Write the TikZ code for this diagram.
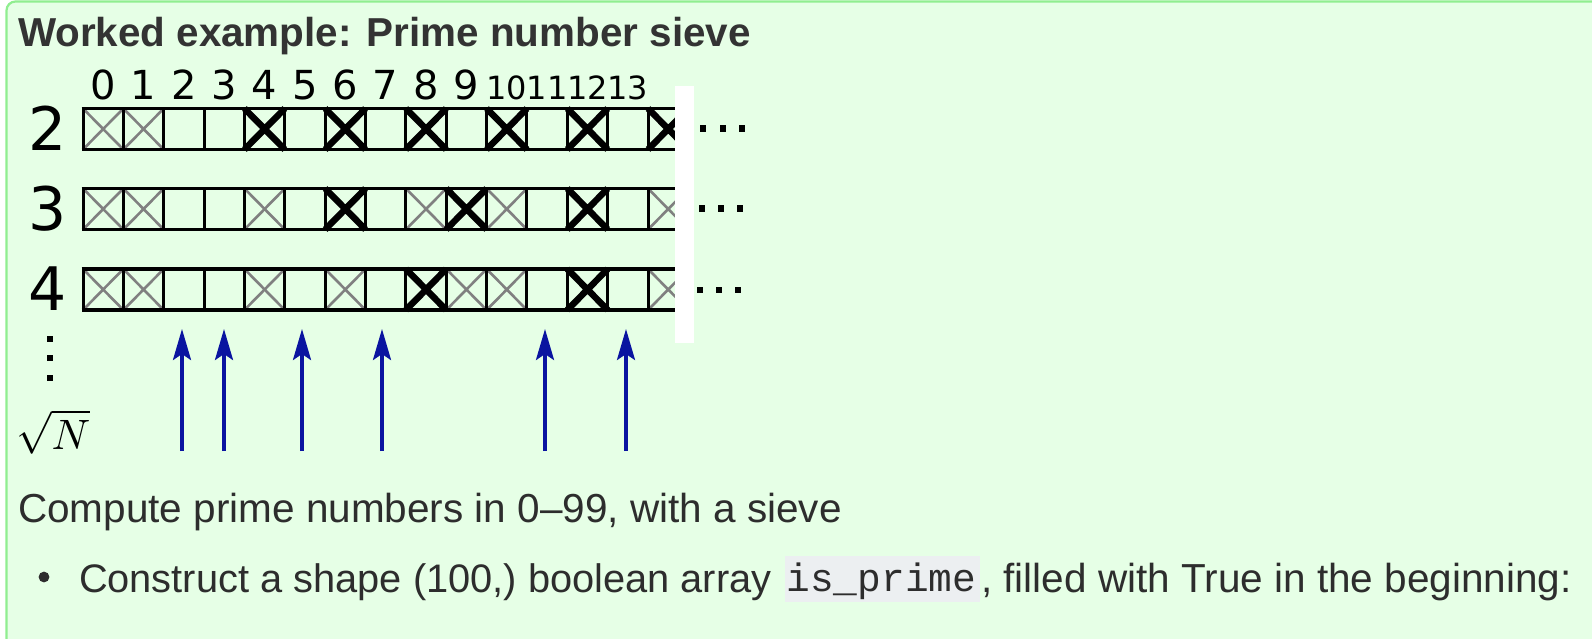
\documentclass[tikz,border=0pt]{standalone}
\usepackage{graphicx}
\usepackage{fontspec}
\setmainfont{Liberation Sans}
\newfontfamily\dejavu{DejaVu Sans}
\newfontfamily\codefont{Liberation Mono}
\usetikzlibrary{arrows.meta}
\definecolor{bgc}{RGB}{230,255,230}
\definecolor{framec}{RGB}{144,238,144}
\definecolor{titlec}{RGB}{51,51,51}
\definecolor{bodyc}{RGB}{45,45,45}
\definecolor{codebg}{RGB}{236,239,241}
\definecolor{arrc}{RGB}{10,20,160}
\definecolor{xgray}{RGB}{128,128,128}
\tikzset{
  txt/.style={inner sep=0pt, outer sep=0pt, anchor=base west},
  titlestyle/.style={txt, text=titlec, font=\fontsize{40.4}{46}\selectfont\bfseries},
  bodystyle/.style={txt, text=bodyc, font=\fontsize{40.5}{46}\selectfont},
  codestyle/.style={txt, text=bodyc, font=\fontsize{39.5}{42}\codefont},
  hdrbig/.style={inner sep=0pt, anchor=base, font=\fontsize{40}{48}\dejavu},
  hdrsmall/.style={inner sep=0pt, anchor=base, font=\fontsize{32}{38}\dejavu},
  rowlab/.style={inner sep=0pt, anchor=base, font=\fontsize{60}{70}\dejavu},
  gridline/.style={draw=black, line width=3.5pt},
  vline/.style={draw=black, line width=3pt},
  xmarkg/.style={draw=xgray, line width=2.6pt},
  xmarkb/.style={draw=black, line width=6.5pt},
  xmarkn/.style={},
  primearrow/.style={draw=arrc, line width=3.4pt, -{Stealth[length=31pt, width=18pt, inset=6pt]}},
  dotsq/.style={fill=black},
}
\begin{document}
\begin{tikzpicture}[x=1pt, y=-1pt]
\path[use as bounding box, clip] (0,0) rectangle (1592,638);
\fill[white] (0,0) rectangle (1592,638);
\path[fill=bgc, draw=framec, line width=2.2pt, rounded corners=9pt] (6.5,1.5) rectangle (1620,680);

% title
\node[titlestyle] (title) at (18,46) {Worked example: Prime number sieve};

% sieve grid
\def\cw{40.36}
\begin{scope}
\clip (0,0) rectangle (675,638);
\foreach \yt/\pat in {108.5/{g,g,n,n,b,n,b,n,b,n,b,n,b,n,b}, 188.5/{g,g,n,n,g,n,b,n,g,b,g,n,b,n,g}, 269/{g,g,n,n,g,n,g,n,b,g,g,n,b,n,g}}{
  \pgfmathsetmacro\yb{\yt+41}
  \foreach \s [count=\k from 0] in \pat {
    \path[xmark\s] ({83+\cw*\k},\yt) -- ({83+\cw*(\k+1)},\yb)
                   ({83+\cw*\k},\yb) -- ({83+\cw*(\k+1)},\yt);
  }
  \foreach \k in {0,...,14} {
    \path[vline] ({83+\cw*\k},\yt) -- ({83+\cw*\k},\yb);
  }
  \path[gridline] (81.5,\yt) -- (680,\yt);
  \path[gridline] (81.5,\yb) -- (680,\yb);
}
\end{scope}
\fill[white] (675,86) rectangle (694,343);

% column headers
\foreach \k in {0,...,9} {
  \node[hdrbig] (h\k) at ({83+\cw*(\k+0.5)},99) {\k};
}
\foreach \k in {10,...,13} {
  \node[hdrsmall] (h\k) at ({83+\cw*(\k+0.5)},99.5) {\k};
}

% row labels
\node[rowlab] (r2) at (48,150.5) {2};
\node[rowlab] (r3) at (48,230.5) {3};
\node[rowlab] (r4) at (48,310) {4};

% ellipses
\foreach \x/\y in {703/128.5, 723/128.5, 742/128.5, 702/208.5, 721/208.5, 740/208.5, 700/290, 719/290, 738/290, 50/339, 50/358, 50/378} {
  \fill[dotsq] ({\x-3.3},{\y-3.3}) rectangle ++(6.6,6.6);
}

% sqrt N
\node[inner sep=0pt, anchor=base west] (sqrtn) at (16,449) {\scalebox{4.25}{$\sqrt{N}$}};

% arrows
\foreach \n/\x in {2/182, 3/224, 5/302, 7/382, 11/545, 13/626} {
  \coordinate (a\n s) at (\x,451);
  \coordinate (a\n e) at (\x,329);
  \draw[primearrow] (a\n s) -- (a\n e);
}

% body text
\node[bodystyle] (compute) at (18,522) {Compute prime numbers in 0–99, with a sieve};
\fill[bodyc] (44,577) circle (5.4);
\node[bodystyle, font=\fontsize{39.8}{46}\selectfont] (construct) at (79,592) {Construct a shape (100,) boolean array};
\fill[codebg] (785,556) rectangle (980,602);
\node[codestyle] (code) at (786.5,591) {is\_prime};
\node[bodystyle] (filled) at (981,592) {, filled with True in the beginning:};
\end{tikzpicture}
\end{document}
